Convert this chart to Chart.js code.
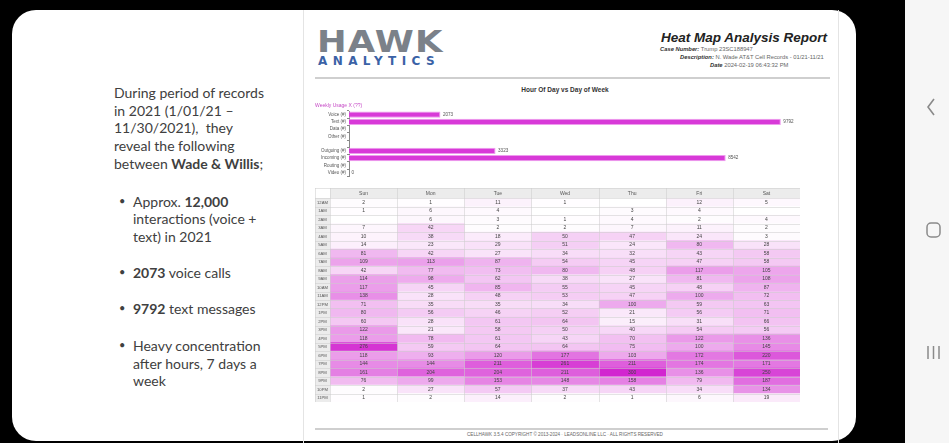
<!DOCTYPE html>
<html><head><meta charset="utf-8">
<script src="https://cdn.jsdelivr.net/npm/chart.js@4.4.1/dist/chart.umd.min.js"></script>
<style>
html,body{margin:0;padding:0;width:949px;height:443px;overflow:hidden;background:#000;font-family:'Liberation Sans',Arial,sans-serif;}
.abs{position:absolute;}
#slide{left:12px;top:10px;width:844px;height:431px;background:#fff;border-radius:24px;}
#nav{left:905px;top:0;width:44px;height:443px;background:#f6f6f6;}
#page{left:303px;top:10px;width:534px;height:433px;border-left:1px solid #e4e4e4;border-right:1px solid #e4e4e4;}
.lt{font-family:Lato,'Open Sans',sans-serif;font-size:14px;color:#404040;white-space:nowrap;line-height:17px;}
.bul{font-family:Lato,sans-serif;font-size:11px;color:#404040;}
#hawk{left:317px;top:27px;font-family:'DejaVu Sans',sans-serif;font-weight:bold;font-size:30px;letter-spacing:1px;color:#7b8189;line-height:30px;transform:scaleX(1.18);transform-origin:0 0;}
#analytics{left:318px;top:55px;font-family:'DejaVu Sans',sans-serif;font-weight:bold;font-size:12px;letter-spacing:5.4px;color:#3b62a6;line-height:12px;}
#rtitle{right:122px;top:30px;font-weight:bold;font-style:italic;font-size:13.5px;color:#222;white-space:nowrap;}
.meta{font-size:5.8px;color:#666;white-space:nowrap;}
.meta b{font-style:italic;color:#333;}
#hline{left:315px;top:77px;width:515px;height:2px;background:#cfcfcf;}
#fline{left:315px;top:428px;width:513px;height:2px;background:#cfcfcf;}
#sub{left:470px;top:86px;width:190px;text-align:center;font-weight:bold;font-size:6.5px;color:#333;}
#foot{left:400px;top:432px;width:330px;text-align:center;font-size:4.6px;color:#666;white-space:nowrap;}
</style></head>
<body>
<div id="slide" class="abs"></div>
<div id="nav" class="abs">
<svg class="abs" style="left:0;top:0" width="44" height="443">
<polyline points="29,99 23,107 29,115" fill="none" stroke="#8a8a8a" stroke-width="1.6"/>
<rect x="22" y="223" width="13" height="14" rx="4" fill="none" stroke="#8a8a8a" stroke-width="1.5"/>
<line x1="23" y1="346" x2="23" y2="359" stroke="#8a8a8a" stroke-width="1.5"/>
<line x1="28.5" y1="346" x2="28.5" y2="359" stroke="#8a8a8a" stroke-width="1.5"/>
<line x1="34" y1="346" x2="34" y2="359" stroke="#8a8a8a" stroke-width="1.5"/>
</svg>
</div>

<div class="abs lt" style="left:114px;top:84px">During period of records</div>
<div class="abs lt" style="left:114px;top:102px">in 2021 (1/01/21 –</div>
<div class="abs lt" style="left:114px;top:119px">11/30/2021),&nbsp; they</div>
<div class="abs lt" style="left:114px;top:137px">reveal the following</div>
<div class="abs lt" style="left:114px;top:155px">between <b>Wade &amp; Willis</b>;</div>

<div class="abs bul" style="left:119px;top:194px">•</div>
<div class="abs lt" style="left:133px;top:193px">Approx. <b>12,000</b></div>
<div class="abs lt" style="left:133px;top:210px">interactions (voice +</div>
<div class="abs lt" style="left:133px;top:228px">text) in 2021</div>
<div class="abs bul" style="left:119px;top:265px">•</div>
<div class="abs lt" style="left:133px;top:264px"><b>2073</b> voice calls</div>
<div class="abs bul" style="left:119px;top:301px">•</div>
<div class="abs lt" style="left:133px;top:300px"><b>9792</b> text messages</div>
<div class="abs bul" style="left:119px;top:338px">•</div>
<div class="abs lt" style="left:133px;top:337px">Heavy concentration</div>
<div class="abs lt" style="left:133px;top:355px">after hours, 7 days a</div>
<div class="abs lt" style="left:133px;top:372px">week</div>

<div id="page" class="abs"></div>
<div id="hawk" class="abs">HAWK</div>
<div id="analytics" class="abs">ANALYTICS</div>
<div id="rtitle" class="abs">Heat Map Analysis Report</div>
<div class="abs meta" style="left:660px;top:46px"><b>Case Number:</b> Trump 23SC188947</div>
<div class="abs meta" style="left:680px;top:54px"><b>Description:</b> N. Wade AT&amp;T Cell Records - 01/21-11/21</div>
<div class="abs meta" style="left:710px;top:62px"><b>Date</b> 2024-02-19 06:43:32 PM</div>
<div id="hline" class="abs"></div>
<div id="sub" class="abs">Hour Of Day vs Day of Week</div>

<canvas id="usage" class="abs" style="left:300px;top:100px" width="530" height="80"></canvas>
<canvas id="heat" class="abs" style="left:315px;top:188px" width="485" height="214"></canvas>

<div id="fline" class="abs"></div>
<div id="foot" class="abs">CELLHAWK 3.5.4 COPYRIGHT © 2013-2024 · LEADSONLINE LLC · ALL RIGHTS RESERVED</div>

<script>
// ---- usage bar chart data ----
const usageLabels = ['Voice (#)','Text (#)','Data (#)','Other (#)','','Outgoing (#)','Incoming (#)','Routing (#)','Video (#)'];
const usageCounts = [2073, 9792, null, null, null, 3323, 8542, null, 0];

// ---- heat map data ----
const hours = ['12AM','1AM','2AM','3AM','4AM','5AM','6AM','7AM','8AM','9AM','10AM','11AM','12PM','1PM','2PM','3PM','4PM','5PM','6PM','7PM','8PM','9PM','10PM','11PM'];
const days = ['Sun','Mon','Tue','Wed','Thu','Fri','Sat'];
const sun = [2,1,0,7,10,14,81,109,42,114,117,138,71,80,60,122,118,276,118,144,161,76,2,1];
const mon = [1,6,6,42,38,23,42,113,77,98,45,28,35,56,28,21,78,59,93,144,204,99,27,2];
const tue = [11,4,3,2,18,29,27,87,73,62,85,48,35,46,61,58,61,64,120,211,204,153,57,14];
const wed = [1,0,1,2,50,51,34,54,80,38,55,53,34,52,64,50,43,64,177,261,211,148,37,2];
const thu = [0,3,4,7,47,24,32,45,48,27,45,47,100,21,15,40,70,75,103,211,300,158,43,1];
const fri = [12,4,2,11,24,80,43,47,117,81,48,100,59,56,31,54,122,100,172,174,136,79,34,6];
const sat = [5,0,4,2,3,28,58,58,105,108,87,72,63,71,66,56,136,145,220,171,250,187,134,19];
const dayValues = [sun, mon, tue, wed, thu, fri, sat];

function heatColor(v){
  const t = Math.pow(Math.min(1, v / 300), 0.85);
  const r = Math.round(255 - (255 - 210) * t);
  const g = Math.round(255 - (255 - 38) * t);
  const b = Math.round(255 - (255 - 208) * t);
  return `rgb(${r},${g},${b})`;
}

// ---- usage chart ----
const barLabelPlugin = {
  id: 'barLabels',
  afterDatasetsDraw(chart){
    const ctx = chart.ctx;
    ctx.save();
    ctx.font = '4.6px "Liberation Sans"';
    ctx.fillStyle = '#555';
    ctx.textAlign = 'left';
    ctx.textBaseline = 'middle';
    const meta = chart.getDatasetMeta(0);
    meta.data.forEach((el, i) => {
      const v = chart.data.datasets[0].data[i];
      if (v === null || v === undefined) return;
      ctx.fillText(String(v), el.x + 2.5, el.y);
    });
    ctx.restore();
  }
};

new Chart(document.getElementById('usage'), {
  type: 'bar',
  data: {
    labels: usageLabels,
    datasets: [{
      data: usageCounts,
      backgroundColor: '#d83ad8',
      borderColor: '#ee9bee',
      borderWidth: 1,
      barPercentage: 0.85,
      categoryPercentage: 1
    }]
  },
  options: {
    indexAxis: 'y',
    responsive: false,
    animation: false,
    events: [],
    layout: { padding: { left: 15, right: 40, top: 1, bottom: 1 } },
    plugins: {
      legend: { display: false },
      tooltip: { enabled: false },
      title: { display: true, text: 'Weekly Usage X (??)', align: 'start', color: '#c548c5',
               font: { size: 5, family: 'Liberation Sans', weight: 'normal' }, padding: { top: 2, bottom: 2 } }
    },
    scales: {
      x: { min: 0, max: 10000, display: false },
      y: {
        afterFit(s){ s.width = 34; },
        ticks: { font: { size: 4.5, family: 'Liberation Sans' }, color: '#555', padding: 1, autoSkip: false },
        grid: { display: true, drawOnChartArea: false, tickLength: 2, color: '#888' },
        border: { display: true, color: '#888' }
      }
    }
  },
  plugins: [barLabelPlugin]
});

// ---- heat map ----
const heatPlugin = {
  id: 'heatDecor',
  beforeDraw(chart){
    const {ctx, chartArea: a} = chart;
    ctx.save();
    ctx.fillStyle = '#ececec';
    ctx.fillRect(0, a.top, a.left, a.bottom - a.top);
    ctx.fillRect(a.left, 0, a.right - a.left, a.top);
    ctx.restore();
  },
  afterDatasetsDraw(chart){
    const {ctx, chartArea: a} = chart;
    const xs = chart.scales.x, ys = chart.scales.y;
    ctx.save();
    ctx.strokeStyle = 'rgba(205,205,205,0.9)';
    ctx.lineWidth = 0.6;
    for (let i = 0; i <= hours.length; i++) {
      const y = Math.round(ys.getPixelForValue(i - 0.5)) + 0.5;
      ctx.beginPath(); ctx.moveTo(0, y); ctx.lineTo(a.right, y); ctx.stroke();
    }
    ctx.beginPath(); ctx.moveTo(0, 0.5); ctx.lineTo(a.right, 0.5); ctx.stroke();
    for (let d = 0; d <= days.length; d++) {
      const x = Math.round(xs.getPixelForValue(d)) + 0.5;
      ctx.beginPath(); ctx.moveTo(x, 0); ctx.lineTo(x, a.bottom); ctx.stroke();
    }
    ctx.beginPath(); ctx.moveTo(0.5, 0); ctx.lineTo(0.5, a.bottom); ctx.stroke();
    ctx.textAlign = 'center';
    ctx.textBaseline = 'middle';
    ctx.fillStyle = '#555';
    ctx.font = '5px "Liberation Sans"';
    days.forEach((d, di) => ctx.fillText(d, xs.getPixelForValue(di + 0.5), a.top / 2 + 0.5));
    ctx.font = '4.2px "Liberation Sans"';
    hours.forEach((h, i) => ctx.fillText(h, a.left / 2, ys.getPixelForValue(i) + 0.3));
    ctx.font = '5px "Liberation Sans"';
    ctx.fillStyle = '#444';
    chart.data.datasets.forEach((ds, di) => {
      const meta = chart.getDatasetMeta(di);
      meta.data.forEach((el, i) => {
        const v = ds.values[i];
        if (!v) return;
        ctx.fillText(String(v), (el.x + el.base) / 2, el.y + 0.3);
      });
    });
    ctx.restore();
  }
};

new Chart(document.getElementById('heat'), {
  type: 'bar',
  data: {
    labels: hours,
    datasets: days.map((d, di) => ({
      label: d,
      values: dayValues[di],
      data: hours.map(() => [di, di + 1]),
      backgroundColor: dayValues[di].map(heatColor),
      borderWidth: 0,
      grouped: false,
      barPercentage: 1,
      categoryPercentage: 1
    }))
  },
  options: {
    indexAxis: 'y',
    responsive: false,
    animation: false,
    events: [],
    layout: { padding: { left: 15, top: 10, right: 0, bottom: 0 } },
    plugins: { legend: { display: false }, tooltip: { enabled: false } },
    scales: {
      x: { type: 'linear', min: 0, max: 7, display: false },
      y: { type: 'category', display: false }
    }
  },
  plugins: [heatPlugin]
});
</script>
</body></html>
